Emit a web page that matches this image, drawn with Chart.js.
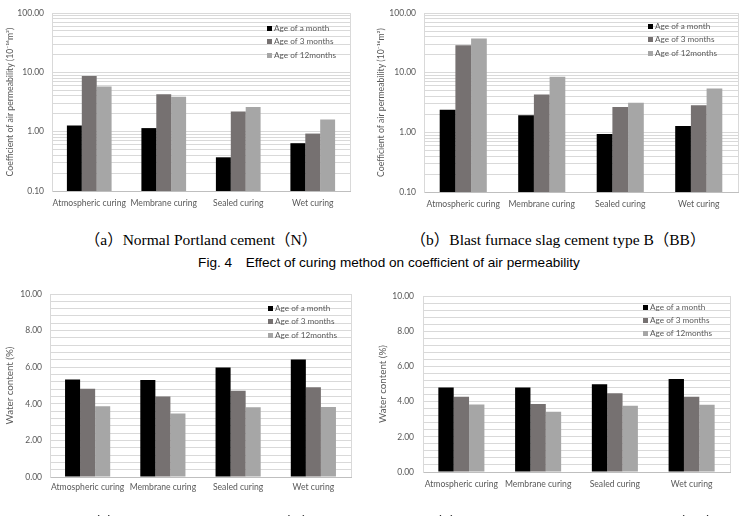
<!DOCTYPE html>
<html><head><meta charset="utf-8">
<script src="https://cdn.jsdelivr.net/npm/chart.js@4.4.1/dist/chart.umd.min.js"></script>
<style>
html,body{margin:0;padding:0;background:#fff;width:744px;height:516px;overflow:hidden;position:relative}
canvas{position:absolute}
.cap{position:absolute;white-space:nowrap;transform:translateX(-50%);color:#000}
.serif{font-family:"Liberation Serif","Noto Sans CJK JP",serif;font-size:15.5px;line-height:18px}
.fig{font-family:"Liberation Sans","Noto Sans CJK JP",sans-serif;font-size:13.6px;line-height:16px}
</style></head><body>
<canvas id="c1" width="372" height="220" style="left:0;top:0"></canvas>
<canvas id="c2" width="372" height="220" style="left:372px;top:0"></canvas>
<canvas id="c3" width="372" height="236" style="left:0;top:280px"></canvas>
<canvas id="c4" width="372" height="236" style="left:372px;top:280px"></canvas>
<div class="cap serif" style="left:201px;top:231px">（a）Normal Portland cement（N）</div>
<div class="cap serif" style="left:558px;top:231px">（b）Blast furnace slag cement type B（BB）</div>
<div class="cap fig" style="left:389px;top:255px">Fig. 4　Effect of curing method on coefficient of air permeability</div>
<div class="cap serif" style="left:201px;top:514px">（c）Normal Portland cement（N）</div>
<div class="cap serif" style="left:574px;top:514px">（d）Blast furnace slag cement type B（BB）</div>
<script>
const categories = ['Atmospheric curing','Membrane curing','Sealed curing','Wet curing'];
const seriesNames = ['Age of a month','Age of 3 months','Age of 12months'];
const seriesColors = ['#000000','#767171','#a6a6a6'];

const airN_month    = [1.27, 1.15, 0.37, 0.64];
const airN_3months  = [8.7, 4.3, 2.2, 0.93];
const airN_12months = [5.8, 3.9, 2.6, 1.6];

const airBB_month    = [2.4, 1.94, 0.94, 1.28];
const airBB_3months  = [29, 4.3, 2.67, 2.85];
const airBB_12months = [37.6, 8.6, 3.15, 5.45];

const waterN_month    = [5.33, 5.30, 5.99, 6.42];
const waterN_3months  = [4.82, 4.40, 4.71, 4.91];
const waterN_12months = [3.87, 3.47, 3.81, 3.83];

const waterBB_month    = [4.80, 4.80, 4.99, 5.29];
const waterBB_3months  = [4.27, 3.87, 4.48, 4.27];
const waterBB_12months = [3.83, 3.42, 3.76, 3.82];

const logTickValues = [0.1,0.2,0.3,0.4,0.5,0.6,0.7,0.8,0.9,1,2,3,4,5,6,7,8,9,10,20,30,40,50,60,70,80,90,100];
const logTickLabels = {'0.1':'0.10','1':'1.00','10':'10.00','100':'100.00'};
const waterTickValues = [0,0.4,0.8,1.2,1.6,2,2.4,2.8,3.2,3.6,4,4.4,4.8,5.2,5.6,6,6.4,6.8,7.2,7.6,8,8.4,8.8,9.2,9.6,10];
const waterTickLabels = {'0':'0.00','2':'2.00','4':'4.00','6':'6.00','8':'8.00','10':'10.00'};

const airTitle = 'Coefficient of air permeability (10\u207B\u00B9\u2076m\u00B2)';
const waterTitle = 'Water content (%)';

const FONT = 'Lato, "Noto Sans", sans-serif';
const TEXT = '#595959';

const framePlugin = {
  id: 'frame',
  beforeDatasetsDraw(chart) {
    const {ctx, chartArea: a} = chart;
    ctx.save();
    ctx.strokeStyle = '#d9d9d9'; ctx.lineWidth = 1;
    const x = Math.round(a.right) + 0.5;
    ctx.beginPath(); ctx.moveTo(x, a.top); ctx.lineTo(x, a.bottom); ctx.stroke();
    ctx.restore();
  },
  afterDraw(chart, args, opts) {
    const {ctx, chartArea: a} = chart;
    ctx.save();
    ctx.font = '8.2px ' + FONT;
    ctx.textBaseline = 'middle';
    chart.data.datasets.forEach((ds, i) => {
      const x = a.right - opts.dx;
      const y = a.top + opts.dy + i * opts.gap;
      ctx.fillStyle = ds.backgroundColor;
      ctx.fillRect(Math.round(x), Math.round(y - 2.5), 5, 5);
      ctx.fillStyle = TEXT;
      ctx.fillText(ds.label, x + 7, y);
    });
    ctx.restore();
  }
};

function makeChart(id, series, isLog, title, titleSize, lay, leg) {
  const el = document.getElementById(id);
  const yScale = {
    afterBuildTicks: s => { s.ticks = (isLog ? logTickValues : waterTickValues).map(v => ({value: v})); },
    afterFit: s => { s.width = lay.left; },
    ticks: {
      autoSkip: false, padding: lay.ytp, color: TEXT, font: {family: FONT, size: 8.5},
      callback: v => { const m = isLog ? logTickLabels : waterTickLabels; const k = String(v); return m[k] !== undefined ? m[k] : ''; }
    },
    grid: {color: '#d9d9d9', drawTicks: false, lineWidth: 1},
    border: {color: '#d9d9d9'},
    title: {display: true, text: title, color: TEXT, font: {family: FONT, size: titleSize}, padding: {top: lay.tp, bottom: 0}}
  };
  if (isLog) { yScale.type = 'logarithmic'; yScale.min = 0.1; yScale.max = 100; }
  else { yScale.min = 0; yScale.max = 10; }
  return new Chart(el, {
    type: 'bar',
    data: {
      labels: categories,
      datasets: series.map((d, i) => ({
        label: seriesNames[i], data: d, backgroundColor: seriesColors[i],
        borderWidth: 0, categoryPercentage: 0.6, barPercentage: 1.0
      }))
    },
    options: {
      responsive: false, animation: false, devicePixelRatio: 1,
      layout: {padding: {left: 0, top: lay.top, right: el.width - lay.right, bottom: 0}},
      plugins: {legend: {display: false}, tooltip: {enabled: false}, frame: leg},
      scales: {
        x: {
          grid: {display: false, drawTicks: false},
          border: {color: '#bfbfbf'},
          ticks: {padding: lay.xtp, color: TEXT, font: {family: FONT, size: 8.6}, maxRotation: 0, autoSkip: false},
          afterFit: s => { s.height = el.height - lay.bottom; }
        },
        y: yScale
      }
    },
    plugins: [framePlugin]
  });
}

makeChart('c1', [airN_month, airN_3months, airN_12months], true, airTitle, 8.7,
  {left: 52, top: 9, right: 350, bottom: 191, ytp: 8, xtp: 7, tp: 5}, {dx: 83, dy: 15, gap: 13.5});
makeChart('c2', [airBB_month, airBB_3months, airBB_12months], true, airTitle, 8.7,
  {left: 52, top: 10, right: 366, bottom: 192, ytp: 8, xtp: 7, tp: 4}, {dx: 90, dy: 13, gap: 13.5});
makeChart('c3', [waterN_month, waterN_3months, waterN_12months], false, waterTitle, 9.8,
  {left: 50, top: 14, right: 351, bottom: 197, ytp: 8, xtp: 5, tp: 4}, {dx: 83, dy: 14, gap: 13.7});
makeChart('c4', [waterBB_month, waterBB_3months, waterBB_12months], false, waterTitle, 9.8,
  {left: 51, top: 16, right: 358, bottom: 192, ytp: 9, xtp: 7, tp: 5}, {dx: 87, dy: 11, gap: 13.3});
</script>
</body></html>
